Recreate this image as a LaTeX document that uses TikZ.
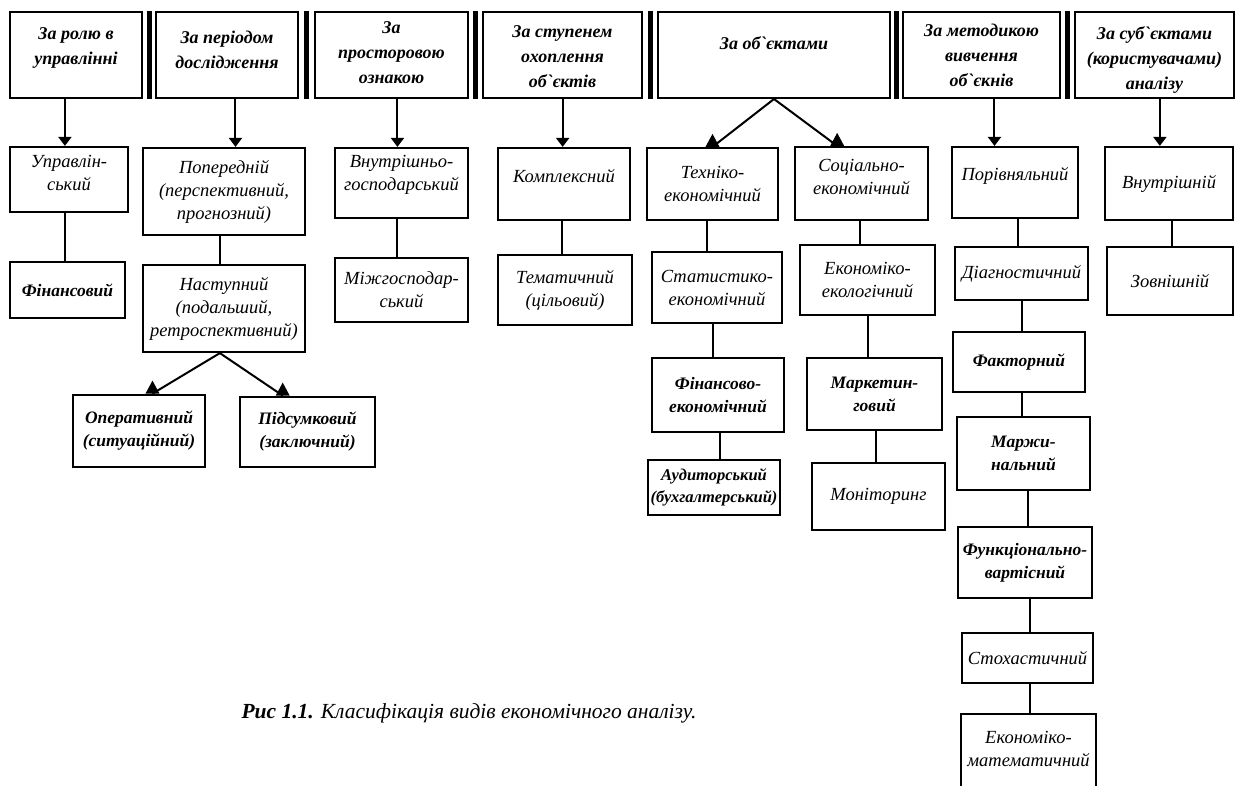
\documentclass[tikz,border=0pt]{standalone}
\usepackage{fontspec}
\setmainfont{Liberation Serif}[Ligatures=TeXOff]
\usetikzlibrary{arrows.meta,calc}
\begin{document}
\begin{tikzpicture}[x=1pt,y=-1pt,
  hcell/.style={draw, line width=2pt, rectangle, inner sep=0pt},
  hdr/.style={font=\fontsize{18}{25}\selectfont\bfseries\itshape, align=center, inner sep=0pt},
  sepbar/.style={line width=5pt},
  box/.style={draw, line width=2.2pt, rectangle, inner sep=1pt, align=center,
              font=\fontsize{18.5}{23}\selectfont\itshape},
  heavy/.style={line width=2.8pt, font=\fontsize{17.5}{23}\selectfont\bfseries\itshape},
  link/.style={line width=2pt},
  arr/.style={link, -{Triangle[width=13pt,length=9pt]}},
]
\fill[white] (0,0) rectangle (1235,785);
\useasboundingbox (0,0) rectangle (1235,785);

% ---------- header row ----------
\node[hcell, minimum width=132pt, minimum height=86pt] (h1) at (76,55) {};
\node[hcell, minimum width=142pt, minimum height=86pt] (h2) at (227,55) {};
\node[hcell, minimum width=153pt, minimum height=86pt] (h3) at (391.5,55) {};
\node[hcell, minimum width=159pt, minimum height=86pt] (h4) at (562.5,55) {};
\node[hcell, minimum width=232pt, minimum height=86pt] (h5) at (774,55) {};
\node[hcell, minimum width=157pt, minimum height=86pt] (h6) at (981.5,55) {};
\node[hcell, minimum width=159pt, minimum height=86pt] (h7) at (1154.5,55) {};

\foreach \a/\b in {h1/h2,h2/h3,h3/h4,h4/h5,h5/h6,h6/h7}
  \draw[sepbar] ($(\a.north east)!.5!(\b.north west)$) -- ($(\a.south east)!.5!(\b.south west)$);

\node[hdr] (t1) at (76,48) {За ролю в\\управлінні};
\node[hdr] (t2) at (227,50) {За періодом\\дослідження};
\node[hdr] (t3) at (391.5,53) {За\\просторовою\\ознакою};
\node[hdr] (t4) at (562.5,57) {За ступенем\\охоплення\\об`єктів};
\node[hdr] (t5) at (774,43) {За об`єктами};
\node[hdr] (t6) at (981.5,55) {За методикою\\вивчення\\об`єкнів};
\node[hdr] (t7) at (1154.5,60) {За суб`єктами\\(користувачами)\\аналізу};

% ---------- classification boxes ----------
\node[box, minimum width=118pt, minimum height=65pt, text depth=14pt] (b1a) at (69,179.5) {Управлін-\\ський};
\node[box, heavy, minimum width=115pt, minimum height=56pt] (b1b) at (67.5,290) {Фінансовий};

\node[box, minimum width=162pt, minimum height=87pt] (b2a) at (224,191.5) {Попередній\\(перспективний,\\прогнозний)};
\node[box, minimum width=162pt, minimum height=87pt] (b2b) at (224,308.5) {Наступний\\(подальший,\\ретроспективний)};
\node[box, heavy, minimum width=132pt, minimum height=72pt] (b2c) at (139,431) {Оперативний\\(ситуаційний)};
\node[box, heavy, minimum width=135pt, minimum height=70pt] (b2d) at (307.5,432) {Підсумковий\\(заключний)};

\node[box, minimum width=133pt, minimum height=70pt, text depth=20pt] (b3a) at (401.5,183) {Внутрішньо-\\господарський};
\node[box, minimum width=133pt, minimum height=64pt] (b3b) at (401.5,290) {Міжгосподар-\\ський};

\node[box, minimum width=132pt, minimum height=72pt, text depth=17pt] (b4a) at (564,184) {Комплексний};
\node[box, minimum width=134pt, minimum height=70pt] (b4b) at (565,290) {Тематичний\\(цільовий)};

\node[box, minimum width=131pt, minimum height=72pt] (b5a) at (712.5,184) {Техніко-\\економічний};
\node[box, minimum width=130pt, minimum height=71pt] (b5b) at (717,287.5) {Статистико-\\економічний};
\node[box, heavy, minimum width=132pt, minimum height=74pt] (b5c) at (718,395) {Фінансово-\\економічний};
\node[box, heavy, font=\fontsize{16.5}{22}\selectfont\bfseries\itshape, minimum width=132pt, minimum height=55pt] (b5d) at (714,487.5) {Аудиторський\\(бухгалтерський)};

\node[box, minimum width=133pt, minimum height=73pt, text depth=14pt] (b6a) at (861.5,183.5) {Соціально-\\економічний};
\node[box, minimum width=135pt, minimum height=70pt] (b6b) at (867.5,280) {Економіко-\\екологічний};
\node[box, heavy, minimum width=135pt, minimum height=72pt] (b6c) at (874.5,394) {Маркетин-\\говий};
\node[box, minimum width=133pt, minimum height=67pt] (b6d) at (878.5,496.5) {Моніторинг};

\node[box, minimum width=126pt, minimum height=71pt, text depth=17pt] (b7a) at (1015,182.5) {Порівняльний};
\node[box, minimum width=133pt, minimum height=53pt] (b7b) at (1021.5,273.5) {Діагностичний};
\node[box, heavy, minimum width=132pt, minimum height=60pt] (b7c) at (1019,362) {Факторний};
\node[box, heavy, minimum width=133pt, minimum height=73pt] (b7d) at (1023.5,453.5) {Маржи-\\нальний};
\node[box, heavy, minimum width=134pt, minimum height=71pt] (b7e) at (1025,562.5) {Функціонально-\\вартісний};
\node[box, minimum width=131pt, minimum height=50pt] (b7f) at (1027.5,658) {Стохастичний};
\node[box, draw=none, minimum width=133pt, minimum height=67pt] (b7g) at (1028.5,748.5) {Економіко-\\математичний};
\draw[line width=2.2pt] ($(b7g.south west)+(0,30)$) -- (b7g.north west) -- (b7g.north east) -- ($(b7g.south east)+(0,30)$);

\node[box, minimum width=128pt, minimum height=73pt] (b8a) at (1169,183.5) {Внутрішній};
\node[box, minimum width=126pt, minimum height=68pt] (b8b) at (1170,281) {Зовнішній};

% ---------- arrows from the criteria to their first kind ----------
\foreach \h/\b/\f in {h1/b1a/.466, h2/b2a/.57, h3/b3a/.47, h4/b4a/.49, h6/b7a/.34, h7/b8a/.43} {
  \coordinate (tip) at ($(\b.north west)!\f!(\b.north east)$);
  \draw[arr] (tip |- \h.south) -- (tip);
}

% ---------- plain links inside each column ----------
\foreach \u/\l/\f in {b1a/b1b/.466, b2a/b2b/.475, b3a/b3b/.47, b4a/b4b/.485,
                      b5a/b5b/.46, b5b/b5c/.47, b5c/b5d/.515,
                      b6a/b6b/.49, b6b/b6c/.5, b6c/b6d/.51,
                      b7a/b7b/.52, b7b/b7c/.5, b7c/b7d/.52, b7d/b7e/.53, b7e/b7f/.54, b7f/b7g/.52,
                      b8a/b8b/.52} {
  \coordinate (foot) at ($(\u.south west)!\f!(\u.south east)$);
  \draw[link] (foot) -- (foot |- \l.north);
}

% ---------- branching arrows ----------
\foreach \s/\sf/\t/\tf in {h5/.5/b5a/.5, h5/.5/b6a/.32, b2b/.475/b2c/.6, b2b/.475/b2d/.32} {
  \coordinate (src) at ($(\s.south west)!\sf!(\s.south east)$);
  \coordinate (dst) at ($(\t.north west)!\tf!(\t.north east)$);
  \draw[link] (src) -- (dst);
  \fill (dst) ++(-7,0) -- ++(14,0) -- ++(-7,-13) -- cycle;
}

% ---------- caption ----------
\node[anchor=west, font=\fontsize{21.5}{26}\selectfont\itshape] (cap) at (238,713)
  {\textbf{Рис 1.1.} Класифікація видів економічного аналізу.};
\end{tikzpicture}
\end{document}
